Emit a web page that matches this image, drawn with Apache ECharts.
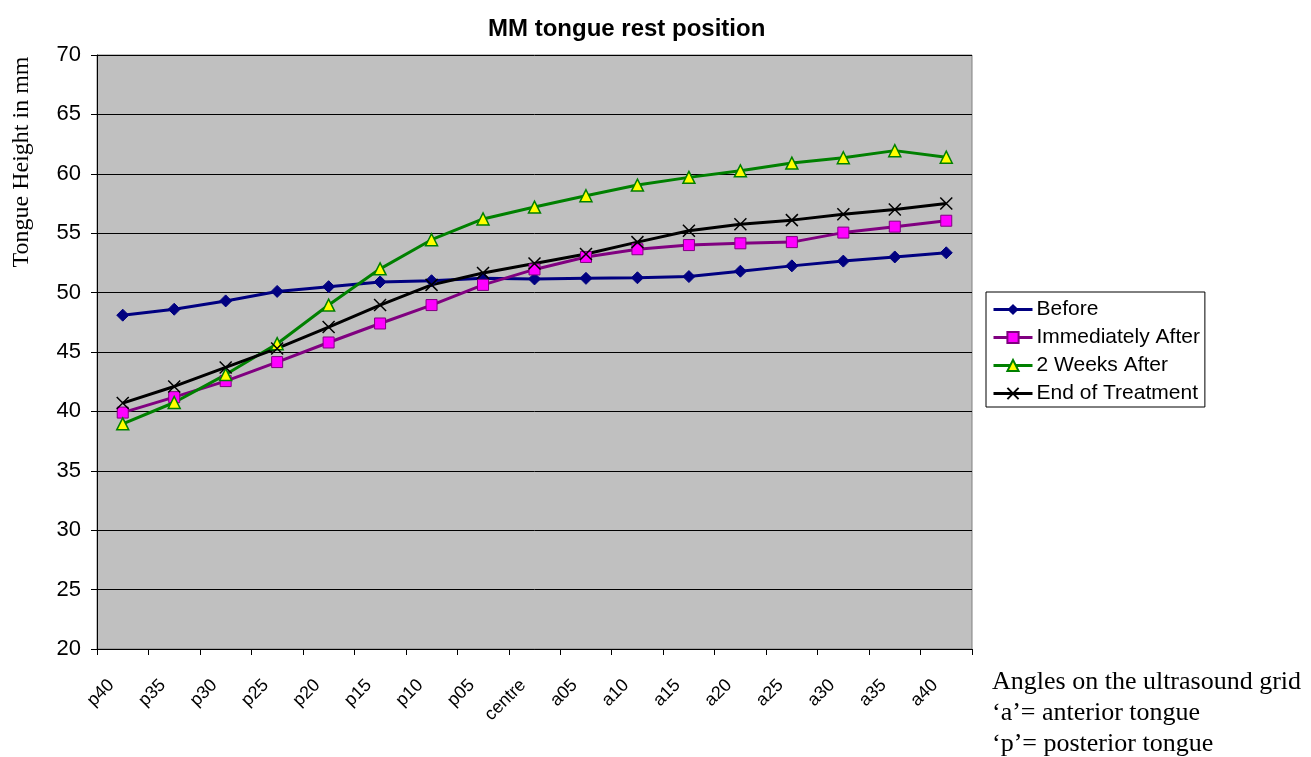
<!DOCTYPE html>
<html><head><meta charset="utf-8">
<script src="https://cdn.jsdelivr.net/npm/echarts@6/dist/echarts.min.js"></script>
<style>html,body{margin:0;padding:0;background:#fff}#c{width:1311px;height:757px}</style>
</head><body><div id="c"></div>
<script>
const categories = ['p40','p35','p30','p25','p20','p15','p10','p05','centre','a05','a10','a15','a20','a25','a30','a35','a40'];
const before = [48.1,48.6,49.3,50.1,50.5,50.9,51.0,51.2,51.15,51.2,51.25,51.35,51.8,52.25,52.65,53.0,53.35];
const immediatelyAfter = [39.9,41.2,42.55,44.15,45.8,47.4,48.95,50.65,51.95,53.0,53.65,54.0,54.15,54.25,55.05,55.55,56.05];
const twoWeeksAfter = [38.95,40.75,43.1,45.7,48.95,52.0,54.45,56.2,57.2,58.15,59.05,59.7,60.25,60.9,61.35,61.95,61.4];
const endOfTreatment = [40.7,42.1,43.7,45.3,47.1,48.95,50.65,51.65,52.45,53.25,54.25,55.2,55.75,56.1,56.6,57.0,57.5];
const yTicks = {min:20, max:70, interval:5};

const chart = echarts.init(document.getElementById('c'));
const crossPath = 'path://M0,0L10,10M10,0L0,10';
chart.setOption({
  animation:false,
  backgroundColor:'#fff',
  title:{text:'MM tongue rest position', left:483, top:12,
    textStyle:{fontFamily:'Liberation Sans, Arial', fontWeight:'bold', fontSize:24, color:'#000'}},
  grid:{left:97, top:55, right:339, bottom:108, show:true, backgroundColor:'#C0C0C0', borderColor:'#808080', borderWidth:1},
  legend:{orient:'vertical', left:986, top:292, backgroundColor:'#fff', borderColor:'#000', borderWidth:1,
    padding:[7,5,3,6], itemGap:7, itemWidth:39, itemHeight:14,
    lineStyle:{width:3},
    textStyle:{fontFamily:'Liberation Sans, Arial', fontSize:21, color:'#000', padding:[0,0,0,-1]},
    data:['Before','Immediately After','2 Weeks After','End of Treatment']},
  xAxis:{type:'category', data:categories, boundaryGap:true,
    axisLine:{lineStyle:{color:'#000', width:1}},
    axisTick:{show:true, length:6, lineStyle:{color:'#000'}},
    axisLabel:{rotate:45, fontFamily:'Liberation Sans, Arial', fontSize:18, color:'#000', margin:22, interval:0, padding:[0,16,0,0]},
    splitLine:{show:false}},
  yAxis:{type:'value', min:yTicks.min, max:yTicks.max, interval:yTicks.interval,
    axisLine:{show:true, lineStyle:{color:'#000'}},
    axisTick:{show:true, length:6, lineStyle:{color:'#000'}},
    axisLabel:{fontFamily:'Liberation Sans, Arial', fontSize:22, color:'#000', margin:16},
    splitLine:{show:true, lineStyle:{color:'#000', width:1}}},
  graphic:[
    {type:'text', x:22, y:162, rotation:Math.PI/2,
      style:{text:'Tongue Height in mm', font:'24px "Liberation Serif", "Times New Roman"', fill:'#000', align:'center', verticalAlign:'middle'}},
    {type:'text', left:992, top:667,
      style:{text:'Angles on the ultrasound grid\n\u2018a\u2019= anterior tongue\n\u2018p\u2019= posterior tongue',
        font:'26px "Liberation Serif", "Times New Roman"', fill:'#000', lineHeight:31}}
  ],
  series:[
    {name:'Before', type:'line', data:before, symbol:'diamond', symbolSize:12,
      lineStyle:{color:'#000080', width:3}, itemStyle:{color:'#000080', borderColor:'#000080'}},
    {name:'Immediately After', type:'line', data:immediatelyAfter, symbol:'rect', symbolSize:11,
      lineStyle:{color:'#800080', width:3}, itemStyle:{color:'#FF00FF', borderColor:'#800080', borderWidth:1}},
    {name:'2 Weeks After', type:'line', data:twoWeeksAfter, symbol:'triangle', symbolSize:12,
      lineStyle:{color:'#008000', width:3}, itemStyle:{color:'#FFFF00', borderColor:'#008000', borderWidth:1.5}},
    {name:'End of Treatment', type:'line', data:endOfTreatment, symbol:crossPath, symbolSize:12,
      lineStyle:{color:'#000', width:3}, itemStyle:{color:'#000', borderColor:'#000', borderWidth:1.5}}
  ]
});
</script></body></html>
